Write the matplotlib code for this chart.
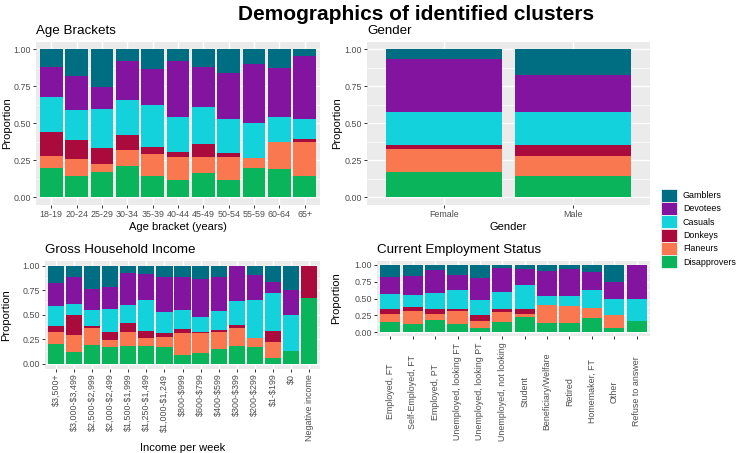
import numpy as np
import matplotlib
matplotlib.use("Agg")
import matplotlib.pyplot as plt
from matplotlib.patches import Patch

plt.rcParams['font.family'] = ['Liberation Sans', 'DejaVu Sans']

clusters = ["Disapprovers", "Flaneurs", "Donkeys", "Casuals", "Devotees", "Gamblers"]
colours = ["#0AB45A", "#FA7850", "#AA0A3C", "#14D2DC", "#8214A0", "#006E82"]

# age brackets
age_labels = ["18-19", "20-24", "25-29", "30-34", "35-39", "40-44", "45-49",
              "50-54", "55-59", "60-64", "65+"]
age_disapprovers = [.200, .144, .169, .211, .144, .117, .164, .117, .200, .189, .146]
age_flaneurs     = [.079, .112, .053, .110, .148, .153, .108, .155, .067, .186, .227]
age_donkeys      = [.161, .128, .108, .101, .047, .036, .085, .027, .000, .000, .018]
age_casuals      = [.239, .203, .266, .234, .286, .233, .250, .229, .232, .164, .139]
age_devotees     = [.200, .229, .148, .263, .240, .378, .274, .310, .402, .333, .423]
age_gamblers     = [.121, .184, .256, .081, .135, .083, .119, .162, .099, .128, .047]

# gender
gender_labels = ["Female", "Male"]
gender_disapprovers = [.171, .144]
gender_flaneurs     = [.155, .132]
gender_donkeys      = [.029, .077]
gender_casuals      = [.218, .220]
gender_devotees     = [.360, .249]
gender_gamblers     = [.067, .178]

# income
income_labels = ["$3,500+", "$3,000-$3,499", "$2,500-$2,999", "$2,000-$2,499",
                 "$1,500-$1,999", "$1,250-$1,499", "$1,000-$1,249", "$800-$999",
                 "$600-$799", "$400-$599", "$300-$399", "$200-$299", "$1-$199",
                 "$0", "Negative income"]
income_disapprovers = [.204, .116, .187, .167, .177, .180, .170, .088, .109, .150, .180, .173, .061, .125, .667]
income_flaneurs     = [.116, .180, .177, .078, .150, .082, .106, .222, .201, .170, .184, .089, .160, .000, .000]
income_donkeys      = [.068, .204, .024, .078, .085, .075, .034, .040, .013, .024, .027, .000, .112, .000, .333]
income_casuals      = [.204, .112, .160, .235, .183, .316, .217, .198, .153, .196, .248, .388, .388, .375, .000]
income_devotees     = [.231, .269, .211, .228, .327, .262, .357, .336, .388, .341, .361, .258, .112, .250, .000]
income_gamblers     = [.177, .119, .241, .214, .078, .085, .116, .116, .136, .119, .000, .092, .167, .250, .000]

# employment
emp_labels = ["Employed, FT", "Self-Employed, FT", "Employed, PT",
              "Unemployed, looking FT", "Unemployed, looking PT",
              "Unemployed, not looking", "Student", "Beneficiary/Welfare",
              "Retired", "Homemaker, FT", "Other", "Refuse to answer"]
emp_disapprovers = [.153, .128, .187, .128, .064, .153, .227, .143, .143, .212, .0625, .167]
emp_flaneurs     = [.113, .192, .084, .182, .099, .147, .049, .257, .241, .148, .1875, .000]
emp_donkeys      = [.079, .054, .074, .030, .093, .045, .069, .000, .010, .000, .000, .000]
emp_casuals      = [.222, .178, .236, .281, .227, .251, .355, .142, .148, .270, .250, .333]
emp_devotees     = [.251, .285, .345, .221, .320, .360, .231, .369, .389, .262, .250, .500]
emp_gamblers     = [.182, .163, .074, .158, .197, .044, .069, .089, .069, .108, .250, .000]

W, H = 736, 453
fig = plt.figure(figsize=(W / 100, H / 100), dpi=100)


def px_axes(x0, y0, x1, y1):
    return fig.add_axes([x0 / W, 1 - y1 / H, (x1 - x0) / W, (y1 - y0) / H])


def draw_panel(ax, labels, series, title, xlabel, ylab_x):
    n = len(labels)
    x = np.arange(1, n + 1)
    bottom = np.zeros(n)
    for vals, col in zip(series, colours):
        vals = np.array(vals)
        ax.bar(x, vals, width=0.9, bottom=bottom, color=col, linewidth=0, zorder=3)
        bottom += vals
    ax.set_facecolor("#EBEBEB")
    ax.set_xlim(0.4, n + 0.6)
    ax.set_ylim(-0.05, 1.05)
    ax.set_yticks([0, 0.25, 0.5, 0.75, 1.0])
    ax.set_yticklabels(["0.00", "0.25", "0.50", "0.75", "1.00"])
    ax.set_yticks([0.125, 0.375, 0.625, 0.875], minor=True)
    ax.set_xticks(x)
    # dollar signs would start mathtext otherwise
    ax.set_xticklabels([l.replace("$", r"\$") for l in labels])
    ax.grid(which="major", color="white", linewidth=1.0, zorder=0)
    ax.grid(which="minor", axis="y", color="white", linewidth=0.5, zorder=0)
    ax.set_axisbelow(True)
    for s in ax.spines.values():
        s.set_visible(False)
    ax.tick_params(which="major", length=2.2, width=0.7, color="#333333",
                   labelsize=6.4, labelcolor="#4D4D4D", pad=1.5)
    ax.tick_params(which="minor", length=0)
    ax.set_title(title, loc="left", fontsize=9.6, pad=5.8)
    ax.set_ylabel("Proportion", fontsize=8)
    ax.yaxis.set_label_coords(ylab_x, 0.5)
    if xlabel:
        ax.set_xlabel(xlabel, fontsize=8, labelpad=2)


ax_age = px_axes(36, 41.6, 320, 204.7)
draw_panel(ax_age, age_labels,
           [age_disapprovers, age_flaneurs, age_donkeys, age_casuals, age_devotees, age_gamblers],
           "Age Brackets", "Age bracket (years)", (12.5 - 36) / 284)

ax_gen = px_axes(367, 41.6, 650, 204.7)
draw_panel(ax_gen, gender_labels,
           [gender_disapprovers, gender_flaneurs, gender_donkeys, gender_casuals, gender_devotees, gender_gamblers],
           "Gender", "Gender", (342.5 - 367) / 283)

ax_inc = px_axes(45, 260.8, 320, 368.6)
draw_panel(ax_inc, income_labels,
           [income_disapprovers, income_flaneurs, income_donkeys, income_casuals, income_devotees, income_gamblers],
           "Gross Household Income", "Income per week", (11.5 - 45) / 275)
for t in ax_inc.get_xticklabels():
    t.set_rotation(90)
    t.set_va("top")

ax_emp = px_axes(377, 261.3, 650, 335.7)
draw_panel(ax_emp, emp_labels,
           [emp_disapprovers, emp_flaneurs, emp_donkeys, emp_casuals, emp_devotees, emp_gamblers],
           "Current Employment Status", None, (341.5 - 377) / 273)
ax_emp.tick_params(axis="x", pad=38)
for t in ax_emp.get_xticklabels():
    t.set_rotation(90)
    t.set_va("center")

handles = [Patch(facecolor=c, edgecolor="white", linewidth=0.5)
           for c in colours[::-1]]
fig.legend(handles, clusters[::-1], loc="upper left",
           bbox_to_anchor=(657 / W, 1 - 185 / H), frameon=False,
           fontsize=6.4, handlelength=1.8, handleheight=1.9,
           labelspacing=0.02, handletextpad=0.7, borderaxespad=0)

fig.text(416 / W, 1 - 20 / H, "Demographics of identified clusters",
         ha="center", va="baseline", fontsize=15, fontweight="bold")

fig.savefig("out.png", dpi=100)
